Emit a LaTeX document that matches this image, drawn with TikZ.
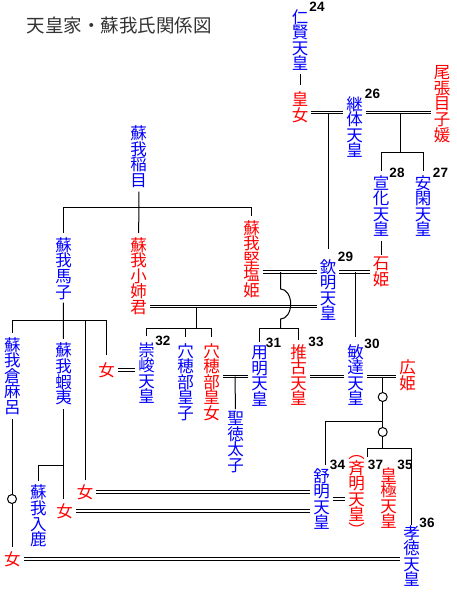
\documentclass[tikz,border=0pt]{standalone}
\usepackage{fontspec}
\newfontfamily\cjk{Noto Sans CJK JP}
\newfontfamily\numfont{Liberation Sans}

\tikzset{
    tenno/.style={text=blue, font=\cjk\fontsize{16.5}{15.6}\selectfont, align=center, inner sep=0pt},
    hime/.style={tenno, text=red},
    num/.style={font=\numfont\bfseries\fontsize{13.5}{13.5}\selectfont, inner sep=0pt},
    line/.style={line width=1pt},
    child/.style={line, shorten >=4pt},
    marry/.style={double, double distance=1.8pt, line width=1pt, shorten <=3pt, shorten >=3pt},
    ring/.style={circle, draw, line width=1pt, fill=white, minimum size=9pt, inner sep=0pt}
}

\begin{document}
\begin{tikzpicture}[x=1pt, y=-1pt]
\useasboundingbox (0,0) rectangle (457,592);

% Title
\node[font=\cjk\fontsize{18.5}{18.5}\selectfont, text=black!80, inner sep=0pt] (title) at (119.5,25) {天皇家・蘇我氏関係図};

% Imperial house
\node[tenno] (ninken) at (300,40) {仁\\賢\\天\\皇};
\node[hime] (kojo) at (300,107) {皇\\女};
\node[tenno] (keitai) at (354.5,127) {継\\体\\天\\皇};
\node[hime] (menoko) at (442,104) {尾\\張\\目\\子\\媛};
\node[tenno] (senka) at (381,206) {宣\\化\\天\\皇};
\node[tenno] (ankan) at (423,206) {安\\閑\\天\\皇};
\node[hime] (ishihime) at (381,272) {石\\姫};
\node[tenno] (kinmei) at (328,290) {欽\\明\\天\\皇};
\node[tenno] (bidatsu) at (355.5,375) {敏\\達\\天\\皇};
\node[hime] (hirohime) at (407.5,375) {広\\姫};
\node[tenno] (yomei) at (259.5,376) {用\\明\\天\\皇};
\node[hime] (suiko) at (298.5,375) {推\\古\\天\\皇};
\node[tenno] (sushun) at (146.5,373) {崇\\峻\\天\\皇};
\node[tenno] (anahobe) at (185.5,382) {穴\\穂\\部\\皇\\子};
\node[hime] (anahobejo) at (211.5,382) {穴\\穂\\部\\皇\\女};
\node[tenno] (shotoku) at (235.5,442) {聖\\徳\\太\\子};
\node[tenno] (jomei) at (321.5,499) {舒\\明\\天\\皇};
\node[hime] (saimei) at (356.5,496) {︵\\斉\\明\\天\\皇\\︶};
\node[hime] (kogyoku) at (388.5,498) {皇\\極\\天\\皇};
\node[tenno] (kotoku) at (411.5,556) {孝\\徳\\天\\皇};

% Soga clan
\node[tenno] (iname) at (138.5,156.5) {蘇\\我\\稲\\目};
\node[tenno] (umako) at (63.5,268.5) {蘇\\我\\馬\\子};
\node[hime] (oane) at (138.5,276) {蘇\\我\\小\\姉\\君};
\node[hime] (kitashi) at (251.5,259) {蘇\\我\\堅\\塩\\姫};
\node[hime] (umakome) at (106.5,370) {女};
\node[tenno] (kuramaro) at (12.5,376) {蘇\\我\\倉\\麻\\呂};
\node[tenno] (emishi) at (63.5,374) {蘇\\我\\蝦\\夷};
\node[tenno] (iruka) at (38.5,516) {蘇\\我\\入\\鹿};
\node[hime] (umakome2) at (85,492) {女};
\node[hime] (emishime) at (64.5,511) {女};
\node[hime] (kuramarome) at (12.5,559) {女};

% Reign numbers
\node[num] (n24) at (317,7) {24};
\node[num] (n26) at (372.5,93.5) {26};
\node[num] (n28) at (397,172.5) {28};
\node[num] (n27) at (440.5,172.5) {27};
\node[num] (n29) at (345.5,256.5) {29};
\node[num] (n32) at (163,341) {32};
\node[num] (n31) at (273.5,342.5) {31};
\node[num] (n33) at (316,341.5) {33};
\node[num] (n30) at (372,343.5) {30};
\node[num] (n34) at (337.5,464.5) {34};
\node[num] (n37) at (375.5,464.5) {37};
\node[num] (n35) at (405,464.5) {35};
\node[num] (n36) at (427,522.5) {36};

% Junctions
\coordinate (keitaiA) at (328,112.5);
\coordinate (keitaiB) at (400.5,112.5);
\coordinate (keitaiC) at (400.5,152);
\coordinate (inameA) at (139,207);
\coordinate (kinmeiA) at (280.7,272);
\coordinate (kinmeiB) at (355.5,272);
\coordinate (kinmeiC) at (196.7,306.5);
\coordinate (kinmeiD) at (280.7,328);
\coordinate (kinmeiE) at (196.7,328);
\coordinate (yomeiA) at (235,376.5);
\coordinate (umakoA) at (63.3,320.7);
\coordinate (emishiA) at (63.3,465);
\coordinate (bidatsuA) at (382.7,376.5);
\coordinate (bidatsuB) at (382.7,421);
\coordinate (bidatsuC) at (382.7,448);

% Marriages
\draw[marry] (kojo.east |- keitaiA) -- (keitai.west |- keitaiA);
\draw[marry] (keitai.east |- keitaiB) -- (menoko.west |- keitaiB);
\draw[marry] (kitashi.east |- kinmeiA) -- (kinmei.west |- kinmeiA);
\draw[marry] (kinmei.east |- kinmeiB) -- (ishihime.west |- kinmeiB);
\draw[marry] (oane.east |- kinmeiC) -- (kinmei.west |- kinmeiC);
\draw[marry] (umakome.east) -- (sushun.west |- umakome.east);
\draw[marry] (anahobejo.east |- yomeiA) -- (yomei.west |- yomeiA);
\draw[marry] (suiko.east |- bidatsuA) -- (bidatsu.west |- bidatsuA);
\draw[marry] (bidatsu.east |- bidatsuA) -- (hirohime.west |- bidatsuA);
\draw[marry] (jomei.east) -- (saimei.west |- jomei.east);
\draw[marry] (umakome2.east) -- (jomei.west |- umakome2.east);
\draw[marry] (emishime.east) -- (jomei.west |- emishime.east);
\draw[marry] (kuramarome.east) -- (kotoku.west |- kuramarome.east);

% Descent lines
\draw[line, shorten <=3pt, shorten >=6pt] (ninken) -- (kojo);
\draw[child, shorten >=10pt] (keitaiA) -- (kinmei.north);
\draw[line] (keitaiB) -- (keitaiC);
\draw[child] (keitaiC) -| (senka.north);
\draw[child] (keitaiC) -| (ankan.north);
\draw[line, shorten <=4pt, shorten >=2pt] (senka) -- (ishihime);

\draw[line, shorten <=4pt] (iname) -- (inameA);
\draw[child] (inameA) -| (umako.north);
\draw[child] (inameA) -- (oane.north);
\draw[child] (inameA) -| (kitashi.north);

\draw[line] (kinmeiA) -- ++(0,17) arc[start angle=90, end angle=-90, x radius=10pt, y radius=15pt] -- (kinmeiD);
\draw[child] (kinmeiD) -| (yomei.north);
\draw[child] (kinmeiD) -| (suiko.north);
\draw[line] (kinmeiC) -- (kinmeiE);
\draw[child, shorten >=6pt] (kinmeiE) -| (sushun.north);
\draw[child, shorten >=6pt] (kinmeiE) -| (anahobe.north);
\draw[child, shorten >=6pt] (kinmeiE) -| (anahobejo.north);
\draw[child, shorten >=7pt] (kinmeiB) -- (bidatsu.north);
\draw[child, shorten >=2pt] (yomeiA) -- (shotoku.north);

\draw[line, shorten <=3pt] (umako) -- (umakoA);
\draw[child] (umakoA) -| (kuramaro.north);
\draw[child] (umakoA) -- (emishi.north);
\draw[child] (umakoA) -| (umakome2.north);
\draw[child, shorten >=7pt] (umakoA) -| (umakome.north);
\draw[child, shorten <=4pt] (emishi.south) -- (emishi.south |- emishime.north);
\draw[child] (emishiA) -| (iruka.north);
\draw[line, shorten <=4pt, shorten >=4pt] (kuramaro) -- (kuramarome);
\node[ring] (kuramaroR) at (12,499) {};

\draw[line] (bidatsuA) -- (bidatsuC);
\node[ring] (ringA) at (382.7,397) {};
\node[ring] (ringB) at (382.7,432) {};
\draw[child, shorten >=3pt] (bidatsuB) -| ([xshift=3.5pt]jomei.north);
\draw[child, shorten >=3pt] (bidatsuC) -| (n37.north west);
\draw[line] (bidatsuC) -| (kotoku.north);

\end{tikzpicture}
\end{document}
